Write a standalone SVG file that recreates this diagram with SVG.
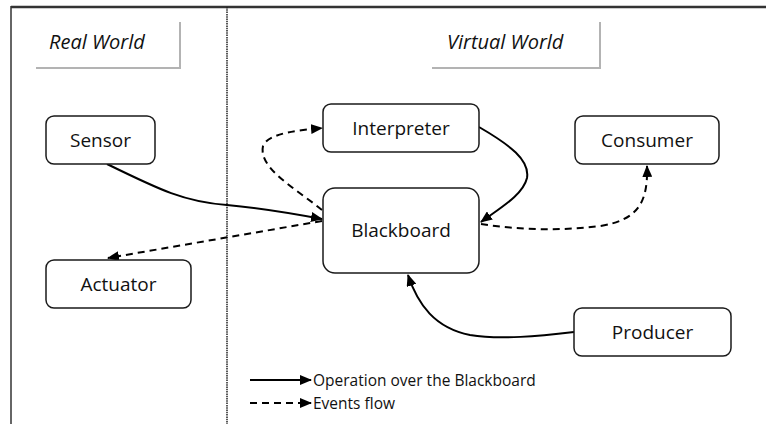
<svg xmlns="http://www.w3.org/2000/svg" width="766" height="424" viewBox="0 0 766 424">
<style>
.node rect{fill:#fff;stroke:#1a1a1a;stroke-width:1.5}
.node text{font-family:"Open Sans","Noto Sans",sans-serif;font-size:19px;fill:#111;text-anchor:middle}
.title text{font-family:"Open Sans","Noto Sans",sans-serif;font-size:20px;font-style:italic;fill:#111}
.title path{fill:none;stroke:#b3b3b3;stroke-width:2}
.solid{fill:none;stroke:#000;stroke-width:2;marker-end:url(#ah)}
.dash{fill:none;stroke:#000;stroke-width:2;stroke-dasharray:7 5;marker-end:url(#ah)}
.legend{font-family:"Open Sans","Noto Sans",sans-serif;font-size:15.5px;fill:#111}
</style>
<defs>
<marker id="ah" viewBox="0 0 12 10" refX="11" refY="5" markerWidth="12" markerHeight="10" markerUnits="userSpaceOnUse" orient="auto">
<path d="M0,0 L12,5 L0,10 z" fill="#000"/>
</marker>
</defs>
<rect width="766" height="424" fill="#fff"/>
<g id="frame">
<line x1="11" y1="7" x2="766" y2="7" stroke="#333" stroke-width="2.5"/>
<line x1="11" y1="6" x2="11" y2="424" stroke="#333" stroke-width="1.5"/>
<line x1="227" y1="7" x2="227" y2="424" stroke="#222" stroke-width="1.5" stroke-dasharray="1.5 0.8"/>
</g>
<g id="real-world" class="title">
<path d="M36,68 H180 V22"/>
<text x="49" y="49">Real World</text>
</g>
<g id="virtual-world" class="title">
<path d="M432,68 H600 V22"/>
<text x="447" y="49">Virtual World</text>
</g>
<g id="connectors">
<path class="solid" d="M107,164 C160,190 185,202 227,205 C260,208 290,213 322,219"/>
<path class="dash" d="M322,221 L108,258"/>
<path class="dash" d="M322,210 C295,188 258,168 263,146 C268,133 300,130 322,128"/>
<path class="solid" d="M479,127 C510,145 530,160 527,178 C523,195 500,208 481,222"/>
<path class="dash" d="M481,224 C520,230 560,231 600,226 C640,220 648,200 647,166"/>
<path class="solid" d="M574,332 C540,336 500,340 470,335 C435,328 418,305 408,275"/>
</g>
<g id="sensor" class="node"><rect x="46" y="116" width="109" height="48" rx="8"/><text x="100.5" y="147">Sensor</text></g>
<g id="actuator" class="node"><rect x="46" y="260" width="145" height="48" rx="8"/><text x="118.5" y="291">Actuator</text></g>
<g id="interpreter" class="node"><rect x="323" y="104" width="156" height="48" rx="8"/><text x="401" y="135">Interpreter</text></g>
<g id="blackboard" class="node"><rect x="323" y="188" width="156" height="85" rx="12"/><text x="401" y="237">Blackboard</text></g>
<g id="consumer" class="node"><rect x="575" y="116" width="144" height="48" rx="8"/><text x="647" y="147">Consumer</text></g>
<g id="producer" class="node"><rect x="574" y="308" width="157" height="48" rx="8"/><text x="652.5" y="339">Producer</text></g>
<g id="legend">
<path class="solid" d="M250,380 H311"/>
<path class="dash" d="M250,403 H311"/>
<text class="legend" x="313" y="386">Operation over the Blackboard</text>
<text class="legend" x="313" y="409">Events flow</text>
</g>
</svg>
